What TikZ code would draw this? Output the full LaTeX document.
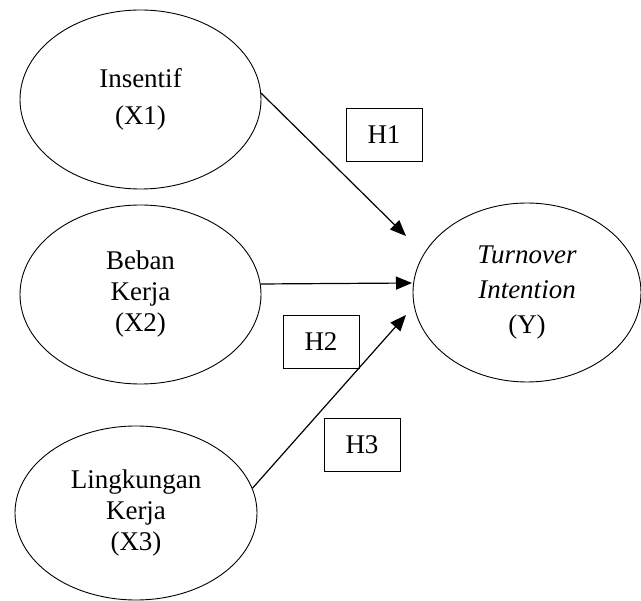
\documentclass[tikz,border=0pt]{standalone}
\usepackage{fontspec}
\setmainfont{Liberation Serif}
\usetikzlibrary{shapes.geometric,arrows.meta}
\begin{document}
\begin{tikzpicture}[x=1pt,y=-1pt,
  var/.style={draw,ellipse,line width=0.9pt,inner sep=0pt,align=center,
    minimum width=241pt,minimum height=179pt,font=\fontsize{27}{31}\selectfont},
  hyp/.style={draw,line width=0.9pt,minimum width=76pt,minimum height=53pt,
    inner sep=0pt,font=\fontsize{27}{31}\selectfont},
  arr/.style={line width=1.2pt,-{Triangle[length=16pt,width=13pt]}}]
\useasboundingbox (0,0) rectangle (641,601);
\node[var] (x1) at (140.5,99.5) {Insentif\\[6pt](X1)};
\node[var] (x2) at (140.5,294.5) {Beban\\Kerja\\(X2)};
\node[var,minimum width=242pt,minimum height=174pt] (x3) at (136,513) {Lingkungan\\Kerja\\(X3)};
\node[var,minimum width=228pt] (y) at (527,292.5) {\itshape Turnover\\[4pt]\itshape Intention\\[4pt](Y)};
\node[hyp] (h1) at (384,134.5) {H1};
\node[hyp] (h2) at (321,342) {H2};
\node[hyp] (h3) at (362,444.5) {H3};
\coordinate (t1) at (406,236);
\coordinate (t2) at (412,283);
\coordinate (t3) at (406,315);
\draw[arr] (x1.3) -- (t1);
\draw[arr] (x2.5.5) -- (t2);
\draw[arr] (x3.12) -- (t3);
\end{tikzpicture}
\end{document}
